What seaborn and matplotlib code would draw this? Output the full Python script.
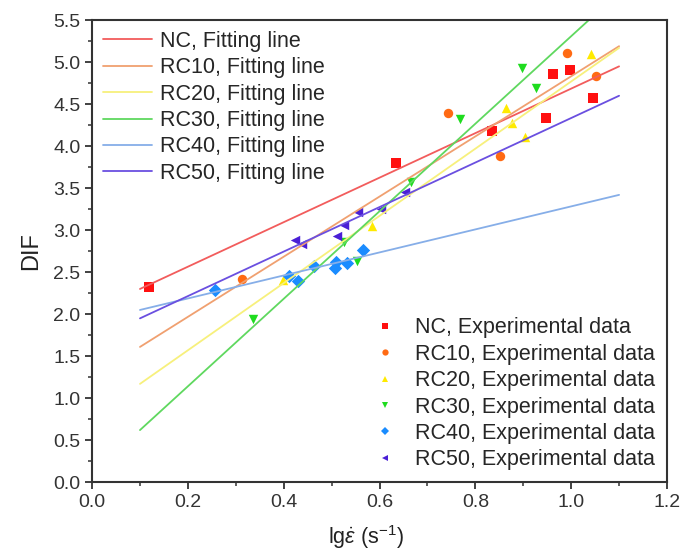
#!/usr/bin/env python3

import matplotlib

matplotlib.use("Agg")
import matplotlib.pyplot as plt
import numpy as np
import pandas as pd
import seaborn as sns
from matplotlib.ticker import MultipleLocator

# -----------------------------------------------------------------
# Data
# -----------------------------------------------------------------
groups = ["NC", "RC10", "RC20", "RC30", "RC40", "RC50"]

nc_x = [0.118, 0.635, 0.834, 0.947, 0.963, 0.998, 1.045]
nc_y = [2.32, 3.80, 4.18, 4.34, 4.86, 4.91, 4.57]

rc10_x = [0.312, 0.742, 0.852, 0.991, 1.052]
rc10_y = [2.42, 4.40, 3.88, 5.11, 4.84]

rc20_x = [0.398, 0.585, 0.864, 0.877, 0.904, 1.042]
rc20_y = [2.41, 3.05, 4.45, 4.28, 4.11, 5.10]

rc30_x = [0.335, 0.525, 0.553, 0.665, 0.767, 0.898, 0.927]
rc30_y = [1.94, 2.86, 2.63, 3.57, 4.32, 4.93, 4.69]

rc40_x = [0.257, 0.411, 0.429, 0.463, 0.509, 0.508, 0.533, 0.565]
rc40_y = [2.29, 2.45, 2.40, 2.57, 2.62, 2.55, 2.61, 2.76]

rc50_x = [0.424, 0.438, 0.511, 0.525, 0.555, 0.603, 0.653]
rc50_y = [2.88, 2.84, 2.93, 3.06, 3.22, 3.25, 3.46]

# fitting lines: value at x = 0.1 and at x = 1.1
fit_x = [0.1, 1.1]
fit_start = [2.30, 1.61, 1.17, 0.62, 2.05, 1.95]
fit_end = [4.95, 5.19, 5.17, 5.83, 3.42, 4.60]

line_colors = ["#f25c5c", "#f0a070", "#f7f07c", "#5fd85f", "#86aee8", "#6a4fe0"]
point_colors = ["#ff1010", "#ff6a13", "#ffea00", "#1fdc1f", "#1a8cff", "#4a1fd6"]
markers = ["s", "o", "^", "v", "D", "<"]

xs = [nc_x, rc10_x, rc20_x, rc30_x, rc40_x, rc50_x]
ys = [nc_y, rc10_y, rc20_y, rc30_y, rc40_y, rc50_y]

points = pd.concat(
    [pd.DataFrame({"x": x, "y": y, "group": g}) for g, x, y in zip(groups, xs, ys)],
    ignore_index=True,
)
lines = pd.concat(
    [
        pd.DataFrame({"x": fit_x, "y": [a, b], "group": g})
        for g, a, b in zip(groups, fit_start, fit_end)
    ],
    ignore_index=True,
)

# -----------------------------------------------------------------
# Plot
# -----------------------------------------------------------------
sns.set_style("ticks")
plt.rcParams["font.family"] = ["Liberation Sans", "DejaVu Sans"]
plt.rcParams["mathtext.fontset"] = "custom"
plt.rcParams["mathtext.rm"] = "Liberation Sans"
plt.rcParams["mathtext.it"] = "Liberation Sans:italic"

fig = plt.figure(figsize=(6.82, 5.6), dpi=100)
ax = fig.add_axes([0.135, 0.139, 0.843, 0.825])

line_handles = []
for g, lc in zip(groups, line_colors):
    sub = lines[lines["group"] == g]
    sns.lineplot(data=sub, x="x", y="y", color=lc, lw=1.3, ax=ax, legend=False)
    line_handles.append(plt.Line2D([], [], color=lc, lw=1.3))

point_handles = []
for g, pc, m in zip(groups, point_colors, markers):
    sub = points[points["group"] == g]
    sns.scatterplot(
        data=sub, x="x", y="y", color=pc, marker=m, s=46, linewidth=0,
        ax=ax, legend=False,
    )
    point_handles.append(
        plt.Line2D([], [], color=pc, marker=m, ls="", markersize=4.5, mew=0)
    )

ax.set_xlim(0.0, 1.2)
ax.set_ylim(0.0, 5.5)
ax.xaxis.set_major_locator(MultipleLocator(0.2))
ax.xaxis.set_minor_locator(MultipleLocator(0.1))
ax.yaxis.set_major_locator(MultipleLocator(0.5))
ax.yaxis.set_minor_locator(MultipleLocator(0.25))
ax.tick_params(which="major", direction="out", length=5, width=1.3,
               colors="#333333", labelsize=14, labelcolor="#333333")
ax.tick_params(which="minor", direction="out", length=3, width=1.1, colors="#333333")
for side in ax.spines:
    ax.spines[side].set_visible(True)
    ax.spines[side].set_color("#333333")
    ax.spines[side].set_linewidth(1.5)

ax.set_xlabel(r"lg$\dot{\varepsilon}$ (s$^{-1}$)", fontsize=15.5, color="#222222")
ax.xaxis.set_label_coords(0.477, -0.088)
ax.set_ylabel("DIF", fontsize=17, color="#222222", labelpad=8)

leg1 = ax.legend(
    line_handles, [f"{g}, Fitting line" for g in groups],
    loc="upper left", bbox_to_anchor=(0.0, 1.0), frameon=False,
    fontsize=15.5, handlelength=2.3, handletextpad=0.35, labelspacing=0.25,
    borderpad=0.1, borderaxespad=0.4,
)
ax.add_artist(leg1)
ax.legend(
    point_handles, [f"{g}, Experimental data" for g in groups],
    loc="lower right", bbox_to_anchor=(1.0, 0.0), frameon=False,
    fontsize=15.5, handlelength=0.8, handletextpad=1.0, labelspacing=0.25,
    borderpad=0.1, borderaxespad=0.45,
)

fig.savefig("out.png", dpi=100)
plt.close(fig)
